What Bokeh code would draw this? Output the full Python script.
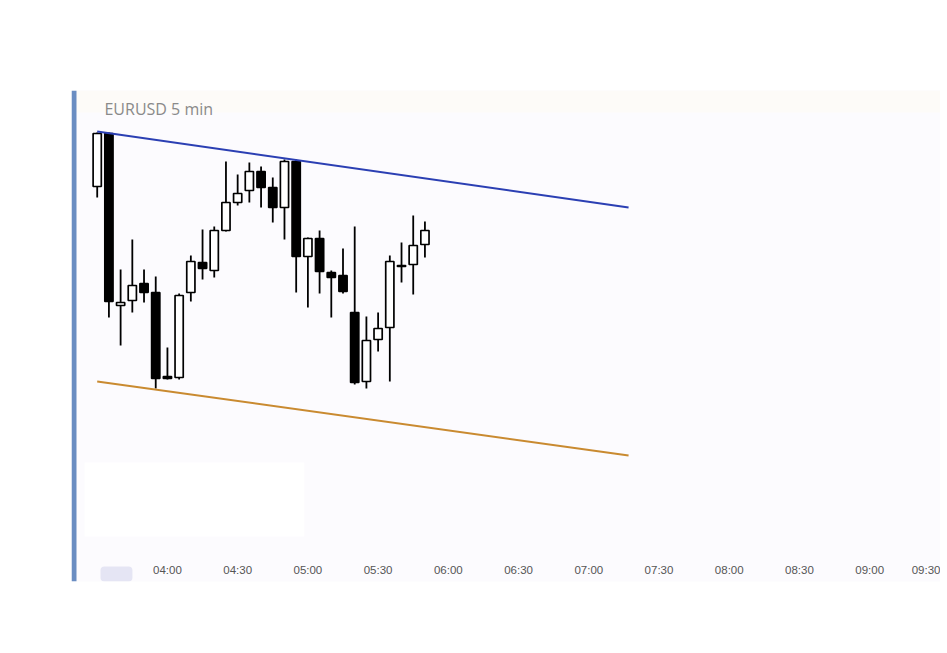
import pandas as pd
from bokeh.plotting import figure
from bokeh.models import (BoxAnnotation, Label, FixedTicker, DatetimeTickFormatter,
                          Range1d, ColumnDataSource)
from bokeh.embed import file_html
from bokeh.resources import INLINE

# ---------------- data ----------------
day = "2024-01-15"
title_text = "EURUSD 5 min"

times = ["03:30", "03:35", "03:40", "03:45", "03:50", "03:55",
         "04:00", "04:05", "04:10", "04:15", "04:20", "04:25",
         "04:30", "04:35", "04:40", "04:45", "04:50", "04:55",
         "05:00", "05:05", "05:10", "05:15", "05:20", "05:25",
         "05:30", "05:35", "05:40", "05:45", "05:50"]
opens = [1.08943, 1.08996, 1.08824, 1.08829, 1.08846, 1.08837,
         1.08753, 1.08752, 1.08837, 1.08867, 1.08859, 1.08899,
         1.08927, 1.08939, 1.08958, 1.08942, 1.08922, 1.08968,
         1.08873, 1.08891, 1.08857, 1.08854, 1.08817, 1.08748,
         1.08790, 1.08802, 1.08863, 1.08865, 1.08885]
highs = [1.08997, 1.08997, 1.08860, 1.08890, 1.08860, 1.08853,
         1.08782, 1.08836, 1.08874, 1.08900, 1.08903, 1.08968,
         1.08955, 1.08967, 1.08963, 1.08952, 1.08970, 1.08970,
         1.08892, 1.08899, 1.08859, 1.08881, 1.08903, 1.08813,
         1.08817, 1.08874, 1.08887, 1.08914, 1.08908]
lows = [1.08932, 1.08812, 1.08784, 1.08817, 1.08827, 1.08741,
        1.08750, 1.08750, 1.08828, 1.08850, 1.08852, 1.08898,
        1.08924, 1.08927, 1.08922, 1.08907, 1.08890, 1.08837,
        1.08822, 1.08836, 1.08812, 1.08836, 1.08745, 1.08741,
        1.08778, 1.08748, 1.08847, 1.08835, 1.08872]
closes = [1.08996, 1.08828, 1.08827, 1.08844, 1.08837, 1.08751,
          1.08751, 1.08834, 1.08868, 1.08861, 1.08899, 1.08927,
          1.08936, 1.08958, 1.08942, 1.08922, 1.08968, 1.08873,
          1.08891, 1.08858, 1.08852, 1.08838, 1.08747, 1.08789,
          1.08801, 1.08868, 1.08864, 1.08884, 1.08899]

tick_labels = ["04:00", "04:30", "05:00", "05:30", "06:00", "06:30",
               "07:00", "07:30", "08:00", "08:30", "09:00", "09:30"]

upper_line_times = ["03:30", "07:17"]
upper_line_prices = [1.08998, 1.08922]
lower_line_times = ["03:30", "07:17"]
lower_line_prices = [1.08748, 1.08674]


def ts(hm):
    return pd.Timestamp(f"{day} {hm}")


# ---------------- figure ----------------
p = figure(width=940, height=645, output_backend="svg", toolbar_location=None,
           x_axis_type="datetime",
           x_range=Range1d(ts("03:19:01"), ts("09:30:15")),
           y_range=Range1d(1.08548, 1.09039),
           min_border_left=71, min_border_right=0,
           min_border_top=90, min_border_bottom=64)
p.background_fill_color = "#fcfbfe"
p.border_fill_color = "#ffffff"
p.outline_line_color = None
p.grid.visible = False
p.yaxis.visible = False

# subtle panel pieces
p.add_layout(BoxAnnotation(bottom=1.09017, fill_color="#fdfbf8", fill_alpha=1,
                           line_color=None, level="underlay"))
p.add_layout(BoxAnnotation(left=ts("03:24:35"), right=ts("04:58:30"),
                           bottom=1.08593, top=1.08667, fill_color="#ffffff",
                           fill_alpha=1, line_color=None, level="underlay"))
p.add_layout(BoxAnnotation(right=ts("03:21:09"), fill_color="#6a8dc2",
                           fill_alpha=1, line_color=None))
p.add_layout(BoxAnnotation(left=ts("03:31:24"), right=ts("03:45:03"),
                           top=1.08563, fill_color="#e5e5f4", fill_alpha=1,
                           line_color=None, border_radius=4))

# candles
df = pd.DataFrame({"t": [ts(t) for t in times], "open": opens, "high": highs,
                   "low": lows, "close": closes})
df["top"] = df[["open", "close"]].max(axis=1)
df["bottom"] = df[["open", "close"]].min(axis=1)
up = df[df.close >= df.open]
dn = df[df.close < df.open]
body_w = 3.5 * 60 * 1000

src_all = ColumnDataSource(df)
p.segment(x0="t", y0="low", x1="t", y1="high", source=src_all,
          line_color="black", line_width=1.8)
p.vbar(x="t", width=body_w, top="top", bottom="bottom", source=ColumnDataSource(up),
       fill_color="white", line_color="black", line_width=1.7)
p.vbar(x="t", width=body_w, top="top", bottom="bottom", source=ColumnDataSource(dn),
       fill_color="black", line_color="black", line_width=1.7)

# trend lines
p.line([ts(t) for t in upper_line_times], upper_line_prices,
       line_color="#2b3fb3", line_width=2)
p.line([ts(t) for t in lower_line_times], lower_line_prices,
       line_color="#c98a30", line_width=2)

# title
p.add_layout(Label(x=ts("03:33:06"), y=1.09021, text=title_text,
                   text_baseline="middle", text_align="left",
                   text_font="Open Sans", text_font_size="16px",
                   text_color="#8a8a8a"))

# x axis
p.xaxis.ticker = FixedTicker(ticks=[ts(t).timestamp() * 1000 for t in tick_labels])
p.xaxis.formatter = DatetimeTickFormatter(minutes="%H:%M", hourmin="%H:%M",
                                          hours="%H:%M", days="%H:%M")
p.xaxis.axis_line_color = None
p.xaxis.major_tick_line_color = None
p.xaxis.minor_tick_line_color = None
p.xaxis.major_tick_out = 0
p.xaxis.major_tick_in = 0
p.xaxis.major_label_standoff = -18
p.xaxis.major_label_text_color = "#555555"
p.xaxis.major_label_text_font = "Liberation Sans"
p.xaxis.major_label_text_font_size = "11.5px"

open("out.html", "w").write(file_html(p, INLINE))
